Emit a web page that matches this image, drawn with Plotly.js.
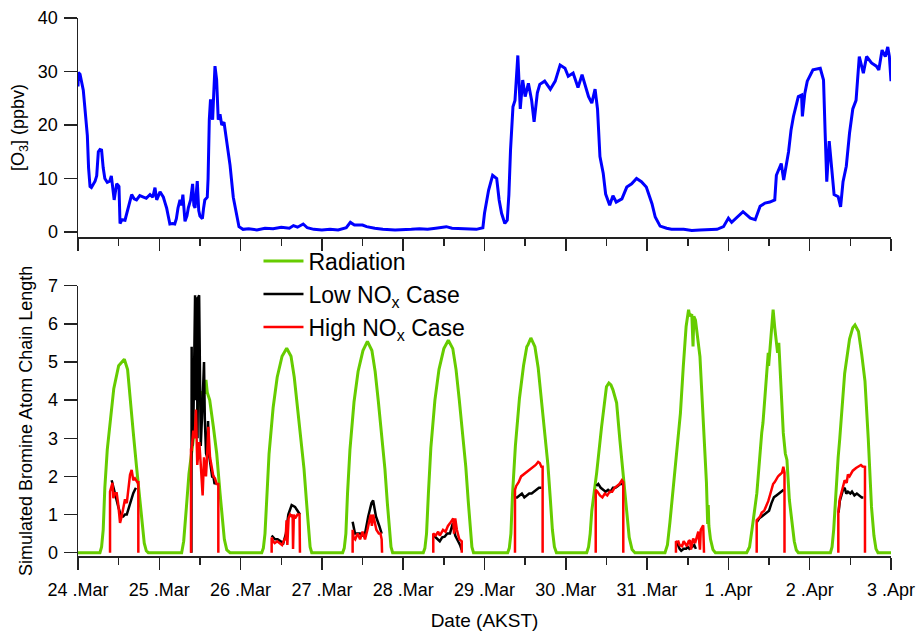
<!DOCTYPE html>
<html>
<head>
<meta charset="utf-8">
<script src="https://cdn.plot.ly/plotly-3.0.1.min.js"></script>
<style>html,body{margin:0;padding:0;background:#fff;}#chart{width:917px;height:631px;}</style>
</head>
<body>
<div id="chart"></div>
<script>
// x values: days since 24 Mar 00:00 AKST
const tickDays = [0,1,2,3,4,5,6,7,8,9,10];
const tickLabels = ['24 .Mar','25 .Mar','26 .Mar','27 .Mar','28 .Mar','29 .Mar','30 .Mar','31 .Mar','1 .Apr','2 .Apr','3 .Apr'];

// ---- Ozone (ppbv) ----
const o3Time = [0.000,0.005,0.025,0.045,0.065,0.080,0.098,0.115,0.130,0.148,0.165,0.188,0.210,0.230,0.240,0.250,0.270,0.290,0.310,0.330,0.360,0.390,0.410,0.430,0.445,0.455,0.476,0.495,0.504,0.517,0.540,0.578,0.600,0.619,0.640,0.660,0.690,0.720,0.760,0.800,0.840,0.886,0.920,0.947,0.968,0.990,1.009,1.030,1.050,1.070,1.090,1.110,1.130,1.160,1.190,1.210,1.230,1.255,1.275,1.290,1.316,1.340,1.357,1.385,1.410,1.425,1.440,1.467,1.485,1.500,1.530,1.545,1.560,1.590,1.600,1.615,1.630,1.645,1.656,1.670,1.685,1.705,1.725,1.747,1.768,1.796,1.830,1.850,1.870,1.910,1.950,1.980,2.030,2.10,2.20,2.30,2.40,2.50,2.60,2.65,2.70,2.77,2.82,2.90,3.00,3.10,3.20,3.30,3.35,3.40,3.50,3.55,3.65,3.75,3.90,4.00,4.10,4.20,4.30,4.40,4.53,4.60,4.70,4.80,4.90,4.98,5.00,5.05,5.10,5.15,5.18,5.21,5.25,5.28,5.30,5.32,5.35,5.375,5.41,5.44,5.47,5.50,5.54,5.58,5.61,5.65,5.68,5.74,5.81,5.87,5.93,5.99,6.03,6.09,6.15,6.20,6.24,6.28,6.32,6.36,6.39,6.42,6.46,6.49,6.54,6.58,6.62,6.69,6.75,6.81,6.87,6.93,6.99,7.06,7.10,7.16,7.24,7.30,7.45,7.55,7.65,7.75,7.86,7.94,8.00,8.04,8.10,8.18,8.27,8.33,8.39,8.45,8.51,8.57,8.59,8.65,8.68,8.74,8.77,8.80,8.86,8.90,8.91,8.94,8.97,9.04,9.13,9.17,9.19,9.21,9.24,9.27,9.30,9.35,9.38,9.41,9.45,9.49,9.53,9.57,9.61,9.66,9.70,9.76,9.82,9.85,9.89,9.93,9.96,9.98,10.00];
const o3Value = [27.2,29.8,29.5,28.0,26.5,24.0,21.0,18.0,12.0,8.5,8.3,9.0,9.5,10.5,13.5,15.0,15.4,15.3,12.0,10.0,9.3,9.5,10.5,8.0,6.0,7.0,9.0,8.7,8.5,1.6,2.3,2.2,3.5,5.0,6.2,7.0,6.2,6.0,6.8,6.5,6.3,7.0,6.5,8.3,6.0,6.8,7.5,7.0,6.5,5.5,4.5,3.0,1.5,1.6,1.5,2.5,4.5,6.0,5.0,7.0,2.0,3.0,4.5,6.0,9.0,5.0,4.5,9.5,4.0,3.0,2.5,4.5,6.0,6.5,10.0,21.0,24.8,22.0,21.0,26.0,31.0,28.5,21.0,22.0,20.0,20.5,17.0,15.0,12.5,6.5,3.0,1.0,0.5,0.6,0.4,0.7,0.6,0.9,0.7,1.2,0.9,1.5,0.8,0.5,0.4,0.5,0.4,0.8,1.8,1.3,1.3,1.0,0.7,0.5,0.4,0.4,0.5,0.6,0.5,0.7,1.0,0.7,0.6,0.5,0.5,0.8,3.5,7.8,10.6,10.0,6.0,3.5,1.6,2.2,7.0,15.3,23.4,24.6,33.0,23.0,28.4,25.3,27.8,24.6,20.6,26.0,27.6,28.2,26.7,28.2,31.2,30.6,29.1,29.7,27.0,29.4,27.2,25.3,24.1,26.7,23.0,14.1,11.0,7.1,5.0,6.8,5.6,6.2,8.4,9.0,10.0,9.4,8.4,5.3,2.8,1.1,0.7,0.5,0.5,0.3,0.4,0.5,0.5,1.0,2.6,1.8,2.6,3.8,2.6,2.3,4.8,5.4,5.6,6.0,10.6,12.8,9.7,15.0,19.0,21.6,25.3,25.6,21.6,25.9,28.2,30.3,30.6,28.4,18.5,9.4,17.0,12.3,7.0,6.6,4.7,9.4,12.3,18.5,23.0,24.6,32.8,29.7,32.8,31.6,31.0,30.3,34.0,32.8,34.6,32.8,28.2];

// ---- Radiation (scaled) ----
const radTime = [0.00,0.27,0.29,0.31,0.33,0.36,0.40,0.44,0.50,0.57,0.61,0.64,0.68,0.72,0.76,0.79,0.815,0.84,0.865,
 1.275,1.30,1.33,1.365,1.42,1.46,1.50,1.52,1.56,1.574,1.59,1.62,1.665,1.706,1.747,1.775,1.80,1.83,1.87,
 2.26,2.28,2.30,2.32,2.35,2.40,2.45,2.51,2.567,2.62,2.66,2.70,2.74,2.78,2.81,2.835,2.855,2.875,
 3.255,3.275,3.295,3.315,3.345,3.395,3.445,3.505,3.56,3.615,3.655,3.695,3.735,3.775,3.805,3.83,3.85,3.87,
 4.247,4.267,4.287,4.31,4.34,4.39,4.44,4.50,4.555,4.61,4.65,4.69,4.73,4.77,4.80,4.825,4.845,4.865,
 5.285,5.305,5.325,5.345,5.38,5.43,5.48,5.52,5.535,5.57,5.62,5.66,5.70,5.74,5.78,5.81,5.835,5.86,5.885,
 6.257,6.28,6.30,6.32,6.35,6.38,6.44,6.48,6.50,6.53,6.555,6.58,6.625,6.665,6.71,6.75,6.78,6.815,6.85,
 7.22,7.25,7.28,7.34,7.385,7.41,7.445,7.48,7.51,7.525,7.55,7.565,7.575,7.595,7.65,7.69,7.73,7.745,7.752,7.76,7.78,7.81,7.84,
 8.225,8.26,8.29,8.35,8.41,8.425,8.45,8.49,8.495,8.53,8.55,8.57,8.59,8.605,8.62,8.655,8.675,8.70,8.72,8.75,8.78,8.81,8.835,8.86,
 9.255,9.275,9.295,9.32,9.35,9.37,9.43,9.49,9.53,9.557,9.60,9.64,9.68,9.72,9.76,9.79,9.815,9.84,10.0];
const radValue = [0,0,0.15,0.6,1.7,2.7,3.5,4.3,4.9,5.07,4.8,4.0,3.15,2.25,1.4,0.7,0.25,0.05,0,
 0,0.3,1.1,2.07,3.0,3.66,4.1,4.2,4.2,4.53,4.2,4.0,3.3,2.6,1.56,0.9,0.35,0.07,0,
 0,0.12,0.5,1.5,2.6,3.8,4.6,5.15,5.36,5.15,4.6,3.8,3.0,2.2,1.35,0.6,0.15,0,
 0,0.12,0.5,1.55,2.7,3.95,4.75,5.3,5.54,5.3,4.75,3.95,3.1,2.2,1.3,0.6,0.15,0,
 0,0.12,0.5,1.55,2.75,4.0,4.8,5.35,5.57,5.35,4.8,4.0,3.15,2.25,1.35,0.6,0.15,0,
 0,0.12,0.5,1.55,2.8,4.05,4.9,5.4,5.45,5.63,5.4,4.85,4.05,3.2,2.3,1.4,0.6,0.15,0,
 0,0.15,0.5,1.1,1.6,2.1,3.3,4.1,4.35,4.45,4.4,4.27,3.93,2.96,1.9,0.95,0.4,0.08,0,
 0,0.2,0.78,2.17,3.22,3.66,4.88,5.93,6.37,6.2,6.25,5.41,6.2,6.1,5.14,3.4,1.83,0.75,1.25,0.7,0.35,0.08,0,
 0,0.15,0.6,1.56,3.14,3.4,4.1,5.24,4.9,5.9,6.37,5.9,5.5,5.24,5.5,4.1,3.14,2.6,2.43,1.38,0.75,0.3,0.07,0,
 0,0.15,0.6,1.6,2.5,3.0,4.7,5.6,5.9,5.97,5.8,5.2,4.5,3.0,1.2,0.45,0.1,0,0];

// ---- Low NOx case (chain length) ----
const lowTime = [0.414,0.435,0.455,0.476,0.496,0.517,0.537,0.557,0.578,0.600,0.620,0.640,0.660,0.680,0.700,0.713,null,
 1.395,1.398,1.405,1.42,1.44,1.45,1.46,1.47,1.48,1.49,1.50,1.51,1.53,1.545,1.55,1.56,1.575,1.59,1.60,1.61,1.63,1.65,1.665,1.68,1.70,null,
 2.382,2.423,2.455,2.485,2.525,2.558,2.587,2.628,2.669,2.70,2.73,null,
 3.378,3.407,3.44,3.47,3.50,3.53,3.57,3.61,3.63,3.665,3.706,3.735,null,
 4.375,4.39,4.42,4.45,4.48,4.51,4.54,4.575,4.61,4.625,4.64,4.68,4.70,4.72,null,
 5.38,5.40,5.43,5.46,5.49,5.52,5.55,5.58,5.61,5.64,5.67,5.70,null,
 6.375,6.40,6.43,6.46,6.49,6.52,6.55,6.58,6.61,6.64,6.67,6.70,null,
 7.36,7.38,7.40,7.42,7.45,7.48,7.50,7.52,7.55,7.58,7.60,null,
 8.35,8.38,8.41,8.44,8.47,8.50,8.53,8.56,8.59,8.62,8.65,8.68,null,
 9.355,9.37,9.39,9.41,9.43,9.45,9.47,9.50,9.52,9.55,9.58,9.61,9.64,9.66];
const lowValue = [1.9,1.7,1.56,1.35,1.2,1.05,0.95,0.95,1.0,1.0,1.15,1.3,1.45,1.56,1.65,1.7,null,
 0,5.4,2.8,3.5,6.75,4.0,6.7,3.0,6.7,6.75,3.5,2.8,3.8,4.6,5.0,3.5,2.6,2.5,3.45,2.6,2.3,2.0,2.0,1.8,1.85,null,
 0.45,0.35,0.35,0.3,0.25,0.5,1.0,1.25,1.2,1.1,1.0,null,
 0.81,0.5,0.5,0.5,0.45,0.5,0.95,1.3,1.37,0.95,0.7,0.5,null,
 0.45,0.42,0.35,0.3,0.4,0.42,0.5,0.5,0.77,0.55,0.45,0.28,0.2,0.07,null,
 1.45,1.45,1.5,1.55,1.45,1.5,1.55,1.55,1.6,1.65,1.7,1.7,null,
 1.75,1.8,1.7,1.65,1.6,1.65,1.6,1.7,1.7,1.75,1.8,1.8,null,
 0.25,0.2,0.1,0.05,0.1,0.1,0.15,0.1,0.15,0.2,0.1,null,
 0.8,0.9,0.95,1.0,1.05,1.1,1.3,1.45,1.5,1.55,1.6,1.65,null,
 1.05,1.35,1.5,1.65,1.7,1.55,1.6,1.55,1.6,1.5,1.55,1.5,1.45,1.45];

// ---- High NOx case (chain length) ----
const highTime = [0.394,0.394,0.424,0.435,0.455,0.476,0.496,0.517,0.537,0.557,0.578,0.600,0.620,0.640,0.660,0.680,0.700,0.730,0.742,0.742,null,
 1.39,1.39,1.398,1.418,1.435,1.451,1.467,1.48,1.492,1.513,1.533,1.55,1.574,1.59,1.603,1.624,1.644,1.665,1.685,1.706,1.726,1.726,null,
 2.382,2.382,2.40,2.42,2.45,2.485,2.51,2.53,2.555,2.565,2.575,2.59,2.61,2.63,2.64,2.645,2.655,2.67,2.70,2.725,2.73,null,
 3.378,3.378,3.39,3.41,3.44,3.47,3.50,3.53,3.56,3.58,3.60,3.615,3.63,3.65,3.67,3.70,3.72,3.735,3.74,null,
 4.37,4.37,4.40,4.43,4.45,4.49,4.52,4.55,4.575,4.60,4.615,4.625,4.64,4.66,4.69,4.72,4.72,null,
 5.375,5.375,5.39,5.42,5.45,5.48,5.50,5.53,5.56,5.60,5.63,5.66,5.68,5.70,5.715,5.715,null,
 6.368,6.368,6.39,6.42,6.45,6.48,6.51,6.54,6.57,6.60,6.63,6.66,6.69,6.707,6.707,null,
 7.355,7.355,7.37,7.385,7.40,7.43,7.45,7.466,7.49,7.51,7.527,7.54,7.567,7.59,7.61,7.63,7.65,7.66,7.69,7.695,7.70,null,
 8.348,8.348,8.37,8.39,8.41,8.44,8.47,8.49,8.51,8.53,8.55,8.57,8.59,8.61,8.635,8.66,8.676,8.69,8.69,null,
 9.352,9.352,9.37,9.39,9.41,9.43,9.455,9.47,9.49,9.53,9.57,9.60,9.63,9.65,9.68,9.68];
const highValue = [0,1.6,1.83,1.43,1.56,1.56,1.25,0.78,0.95,1.2,1.4,1.3,1.65,2.04,2.17,1.9,1.95,1.85,1.85,0,null,
 0,2.7,2.7,3.2,3.0,3.75,2.3,2.6,2.9,2.2,1.5,2.5,2.0,2.6,3.3,2.5,2.2,2.0,1.95,1.8,1.8,0,null,
 0,0.4,0.3,0.25,0.3,0.25,0.2,0.3,0.4,0.85,0.2,0.9,1.0,0.95,1.0,0.1,1.0,0.9,1.0,1.0,0,null,
 0,0.6,0.4,0.35,0.5,0.35,0.55,0.35,0.6,0.85,1.0,0.7,1.0,0.8,0.6,0.5,0.5,0.35,0,null,
 0,0.5,0.45,0.55,0.45,0.6,0.55,0.7,0.77,0.85,0.9,0.5,0.9,0.6,0.35,0.3,0,null,
 0,1.65,1.75,1.85,2.0,2.05,2.1,2.15,2.2,2.25,2.3,2.38,2.35,2.25,2.25,0,null,
 0,1.65,1.6,1.5,1.45,1.55,1.5,1.6,1.6,1.7,1.75,1.8,1.9,1.85,0,null,
 0,0.3,0.28,0.29,0.2,0.17,0.3,0.25,0.17,0.3,0.33,0.08,0.37,0.25,0.4,0.55,0.08,0.6,0.72,0.05,0,null,
 0,0.85,0.9,0.95,1.05,1.1,1.25,1.35,1.5,1.65,1.8,1.85,1.95,2.0,2.05,2.1,2.25,2.1,0,null,
 0,1.04,1.4,1.56,1.75,1.9,1.83,2.05,2.0,2.15,2.22,2.25,2.3,2.26,2.25,0];

const FONT = '"Liberation Sans", Arial, sans-serif';
const AX = '#222';

const traces = [
  {x:o3Time, y:o3Value, xaxis:'x', yaxis:'y', type:'scatter', mode:'lines',
   line:{color:'#0000ff', width:3}, showlegend:false, hoverinfo:'skip'},
  {x:radTime, y:radValue, xaxis:'x2', yaxis:'y2', type:'scatter', mode:'lines',
   name:'Radiation', line:{color:'#66cc00', width:3}},
  {x:lowTime, y:lowValue, xaxis:'x2', yaxis:'y2', type:'scatter', mode:'lines',
   name:'Low NO<sub>x</sub> Case', line:{color:'#000000', width:2.5}, connectgaps:false},
  {x:highTime, y:highValue, xaxis:'x2', yaxis:'y2', type:'scatter', mode:'lines',
   name:'High NO<sub>x</sub> Case', line:{color:'#ff0000', width:2.5}, connectgaps:false}
];

function xAxisBase() {
  return {range:[0,10], tickmode:'array', tickvals:tickDays, ticks:'outside', ticklen:12,
    tickwidth:1.5, tickcolor:AX, showline:true, linewidth:1.5, linecolor:AX,
    showgrid:false, zeroline:false, mirror:false,
    minor:{ticks:'outside', ticklen:7, tickwidth:1.5, tickcolor:AX, dtick:0.5, tick0:0, showgrid:false}};
}
function yAxisBase() {
  return {ticks:'outside', ticklen:13, tickwidth:1.5, tickcolor:AX, showline:true,
    linewidth:1.5, linecolor:AX, showgrid:false, zeroline:false, mirror:false,
    tickfont:{size:18, color:'#000'}, ticklabelstandoff:2};
}

const xa = Object.assign(xAxisBase(), {domain:[0,1], anchor:'y', showticklabels:false});
const xa2 = Object.assign(xAxisBase(), {domain:[0,1], anchor:'y2', ticktext:tickLabels,
  tickfont:{size:18, color:'#000'}, ticklabelstandoff:5,
  title:{text:'Date (AKST)', font:{size:19, color:'#000'}, standoff:16}});
const ya = Object.assign(yAxisBase(), {domain:[0.5929,1], anchor:'x', range:[-0.935,40],
  tickvals:[0,10,20,30,40],
  title:{text:'[O<sub>3</sub>] (ppbv)', font:{size:18, color:'#000'}, standoff:8}});
const ya2 = Object.assign(yAxisBase(), {domain:[0,0.5024], anchor:'x2', range:[-0.087,7],
  tickvals:[0,1,2,3,4,5,6,7],
  title:{text:'Simulated Bromine Atom Chain Length', font:{size:18, color:'#000'}, standoff:10}});

const layout = {
  width:917, height:631,
  margin:{l:78, r:26, t:18, b:75},
  paper_bgcolor:'#fff', plot_bgcolor:'#fff',
  font:{family:FONT, color:'#000', size:18},
  xaxis:xa, yaxis:ya, xaxis2:xa2, yaxis2:ya2,
  showlegend:true,
  legend:{x:0.222, y:0.588, xanchor:'left', yanchor:'top', bgcolor:'rgba(0,0,0,0)',
    font:{size:23, color:'#000'}, itemwidth:40, tracegroupgap:0},
  hovermode:false
};

Plotly.newPlot('chart', traces, layout, {staticPlot:true, displayModeBar:false});
</script>
</body>
</html>
